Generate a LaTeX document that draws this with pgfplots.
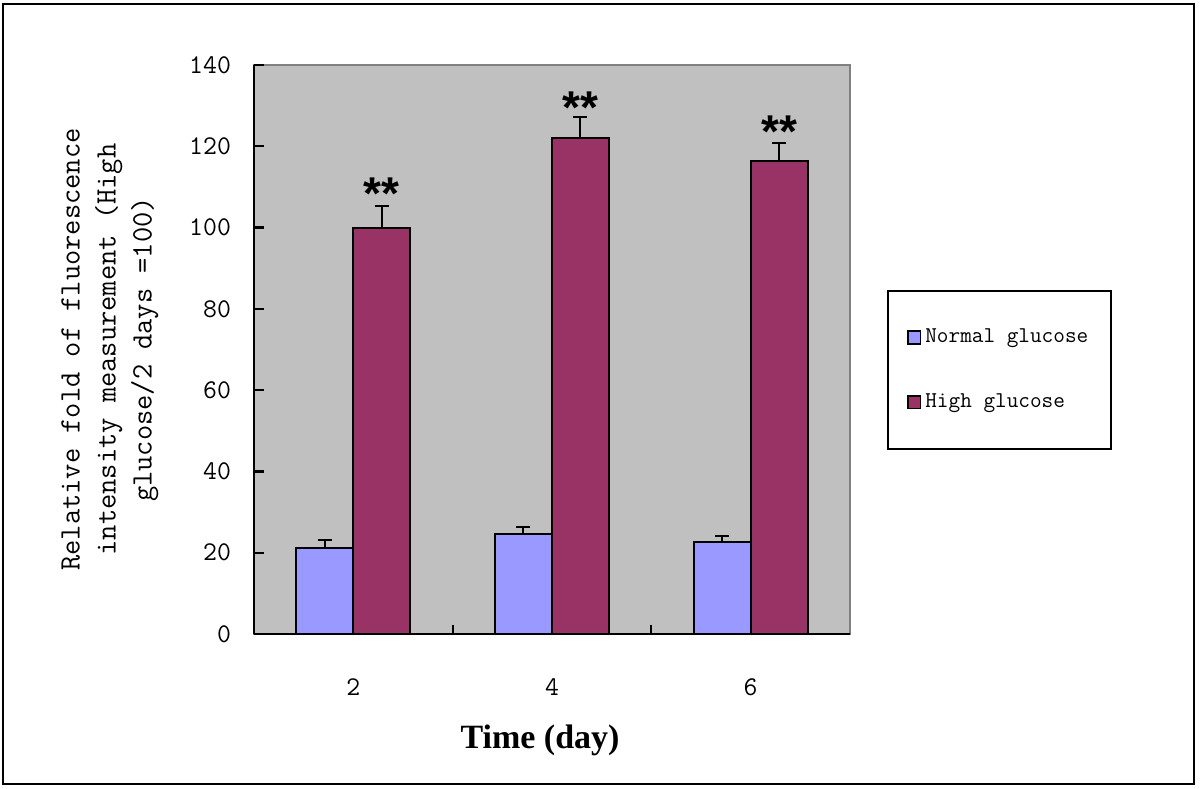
\documentclass[border=0pt]{standalone}
\usepackage{fontspec}
\usepackage{pgfplots}
\pgfplotsset{compat=1.18}
\newfontfamily\timesb{Liberation Serif}
\newfontfamily\arialb{Liberation Sans}
\newcommand\simfont{\ttfamily}
\definecolor{normalc}{HTML}{9999FF}
\definecolor{highc}{HTML}{993366}
\definecolor{plotbg}{HTML}{C0C0C0}

\begin{document}
\begin{tikzpicture}
\useasboundingbox (-127pt,-77pt) rectangle (473pt,317pt);
\draw[line width=1pt] (-125.5pt,-75pt) rectangle (470pt,315pt);
\begin{axis}[
  name=main,
  scale only axis, width=298pt, height=284.5pt,
  xmin=0.5, xmax=3.5, ymin=0, ymax=140,
  ybar=0pt, bar width=28.5pt,
  axis background/.style={fill=plotbg, draw=gray, line width=1pt},
  axis lines*=left, axis line style={-, black, line width=1pt},
  xtick={1,2,3}, xticklabels={2,4,6},
  major x tick style={draw=none},
  minor x tick num=1, minor tick length=4.5pt,
  minor x tick style={draw=black, line width=1pt},
  ytick={0,20,...,140},
  tick align=inside,
  major tick length=4.5pt,
  major y tick style={draw=black, line width=1pt},
  /pgf/number format/assume math mode=true,
  ticklabel style={font=\simfont\fontsize{13.5}{14}\selectfont},
  yticklabel style={xshift=-8pt},
  xticklabel style={yshift=-19pt},
  xlabel={Time (day)},
  every axis x label/.style={at={(axis description cs:0.48,0)}, anchor=center, yshift=-53pt,
    font=\timesb\bfseries\fontsize{17}{20}\selectfont},
  ylabel={Relative fold of fluorescence\\intensity measurement (High\\glucose/2 days =100)},
  every axis y label/.style={at={(axis description cs:-0.2416,0.5)}, rotate=90, anchor=center,
    align=center, font=\simfont\fontsize{14.8}{18}\selectfont},
  legend cell align=left,
  legend style={at={(1.062,0.6046)}, anchor=north west, draw=black, line width=1pt,
    fill=white, font=\simfont\fontsize{11.3}{13}\selectfont,
    row sep=20pt, inner xsep=9.5pt, inner ysep=17pt},
  legend image code/.code={\draw[#1, draw=black, line width=0.8pt] (0pt,-3.2pt) rectangle (6.4pt,3.2pt);},
]
\addplot[fill=normalc, draw=black, line width=1pt,
  error bars/.cd, y dir=plus, y explicit,
  error bar style={line width=1pt, black},
  error mark options={rotate=90, line width=1pt, mark size=3.5pt, black}]
  coordinates {(1,21.1) +- (0,2.1) (2,24.6) +- (0,1.7) (3,22.6) +- (0,1.6)};
\addplot[fill=highc, draw=black, line width=1pt,
  error bars/.cd, y dir=plus, y explicit,
  error bar style={line width=1pt, black},
  error mark options={rotate=90, line width=1pt, mark size=3.5pt, black}]
  coordinates {(1,100) +- (0,5.3) (2,122) +- (0,5.3) (3,116.4) +- (0,4.3)};
\legend{Normal glucose, High glucose}
\node[font=\arialb\bfseries\fontsize{23}{23}\selectfont, anchor=center, xshift=14.25pt] at (axis cs:1,108.3) {**};
\node[font=\arialb\bfseries\fontsize{23}{23}\selectfont, anchor=center, xshift=14.25pt] at (axis cs:2,129.6) {**};
\node[font=\arialb\bfseries\fontsize{23}{23}\selectfont, anchor=center, xshift=14.25pt] at (axis cs:3,123.7) {**};
\end{axis}
% inward y ticks on the left axis line (axis box is 284.5pt tall, 20 units = 40.643pt)
\foreach \k in {1,...,7}
  \draw[black, line width=1.1pt] (main.south west) ++(0pt,\k*40.643pt) -- ++(5pt,0pt);
\end{tikzpicture}
\end{document}
